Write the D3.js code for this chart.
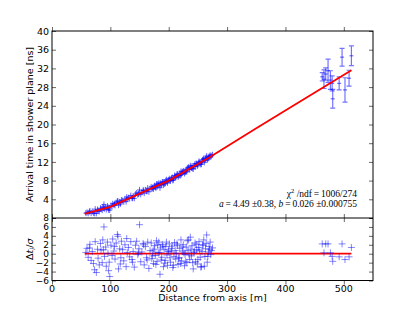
<!DOCTYPE html>
<html lang="en">
<head>
<meta charset="UTF-8">
<title>Arrival time fit</title>
<script src="https://d3js.org/d3.v7.min.js"></script>
<style>
    html, body { margin: 0; padding: 0; background: #fff; }
    svg { display: block; }
    .tick text { font-family: "DejaVu Sans", sans-serif; font-size: 9.5px; fill: #000; }
    .lab { font-family: "DejaVu Sans", sans-serif; font-size: 9.5px; fill: #000; }
    .ann { font-family: "Liberation Serif", "DejaVu Serif", serif; font-size: 9.5px; fill: #000; }
</style>
</head>
<body>
<svg width="415" height="312"></svg>
<script>
// near-core stations: distance [m], arrival time [ns], residual dt/sigma
const nearR = [58, 60, 62, 64, 65, 67, 69, 71, 73, 74, 76, 78, 79,
    81, 83, 84, 86, 87, 89, 90, 92, 93, 95, 96, 98, 99, 101, 103, 104, 106, 108, 110, 112, 113, 114, 116, 118, 119,
    121, 123, 125, 127, 129, 131, 133, 135, 137, 139, 141, 143, 145, 147, 149, 150, 152, 154, 156, 158, 160, 162, 164, 166, 168,
    170, 171, 173, 174, 176, 177, 179, 180, 182, 183, 185, 186, 188, 189, 191, 192, 194, 195, 197, 198,
    200, 201, 203, 204, 206, 207, 209, 210, 212, 213, 215, 216, 218, 219, 221, 222, 224, 225, 227, 228,
    230, 231, 233, 234, 236, 237, 239, 240, 242, 243, 245, 246, 248, 249, 251, 252, 254, 255, 257, 258,
    260, 261, 263, 265, 267, 269, 271, 273, 275,
    172, 175, 178, 181, 184, 187, 190, 193, 196, 199, 202, 205, 208, 211, 214, 217, 220, 223, 226, 229,
    232, 235, 238, 241, 244, 247, 250, 253, 256, 259, 262, 264, 266, 268, 270, 272,
    88, 97, 107, 117, 128, 138, 148, 157, 163];
const nearT = [1.05, 1.2, 1.0, 1.35, 1.5, 1.05, 1.4, 1.1, 1.0, 1.9, 1.0, 1.8, 1.5,
    1.4, 2.1, 1.95, 1.65, 2.35, 2.9, 2.0, 2.3, 1.8, 2.55, 2.27, 2.1, 1.7, 2.7, 2.5, 3.05, 2.8, 2.7, 3.3, 3.6, 3.6, 2.75, 3.45, 3.3, 3.85,
    3.75, 3.45, 4.1, 3.5, 4.07, 4.35, 4.15, 4.8, 4.25, 4.65, 4.2, 5.1, 5.35, 5.0, 5.3, 6.0, 5.05, 5.5, 5.9, 5.3, 6.0, 5.75, 6.4, 5.6, 6.3,
    6.66, 6.22, 6.58, 6.21, 6.93, 6.64, 7.26, 6.63, 7.02, 7.44, 6.47, 7.4, 7.21, 7.7, 7.07, 7.69, 7.44, 7.96, 7.79, 7.51,
    8.12, 8.4, 7.93, 8.34, 8.69, 8.04, 8.55, 9.09, 8.67, 8.94, 9.36, 8.78, 9.15, 9.53, 9.97, 9.32, 9.79, 10.08, 9.52, 9.96,
    10.35, 9.9, 10.45, 10.88, 10.36, 11.18, 10.7, 11.11, 10.47, 11.1, 11.56, 11.0, 11.55, 11.13, 11.83, 12.1, 11.71, 11.45, 12.13, 12.42,
    12.73, 11.91, 12.64, 13.25, 12.67, 13.14, 13.43, 13.29, 13.53,
    6.36, 6.75, 6.4, 7.24, 7.15, 7.06, 7.7, 7.29, 8.17, 8.03, 8.0, 8.54, 8.18, 8.89, 9.32, 9.06, 9.09, 9.86, 9.88, 9.79,
    10.71, 10.44, 10.85, 10.61, 11.21, 11.66, 11.36, 11.88, 11.54, 12.48, 12.31, 12.89, 12.4, 12.89, 13.12, 13.08,
    2.1, 1.73, 3.04, 3.0, 4.48, 4.25, 5.12, 5.89, 5.72];
const nearRes = [0.3, 1.2, -0.8, 1.3, 2.1, -1.5, 0.5, -2.2, -3.6, 2.7, -4.2, 1.0, -1.0,
    -2.5, 2.3, 0.8, -2.0, 3.1, 6.0, -0.6, 1.5, -2.8, 2.6, 0.1, -1.9, -5.1, 1.9, -0.4, 3.3, 0.6, -1.2, 2.4, 4.3, 3.9, -3.4, 1.1, -0.9, 2.8,
    0.9, -1.6, 2.0, -2.9, 0.3, 1.4, -0.7, 2.7, -1.3, 0.5, -3.0, 1.9, 2.8, -0.2, 1.1, 6.5, -1.8, 0.4, 2.3, -2.5, 1.6, -0.9, 2.6, -3.3, 0.7,
    2.4, -1.1, 0.6, -2.2, 1.8, -0.4, 2.9, -1.7, 0.2, 2.6, -4.6, 1.3, -0.8, 2.1, -2.9, 0.9, -1.5, 1.6, -0.3, -2.6,
    0.8, 2.2, -1.9, 0.4, 1.7, -3.1, -0.6, 2.5, -1.2, 0.1, 1.9, -2.4, -0.9, 1.2, 3.1, -1.6, 0.6, 2.0, -2.7, -0.2,
    1.5, -2.0, 0.7, 3.1, -1.3, 3.7, -0.5, 1.8, -3.4, 0.3, 2.4, -1.8, 0.9, -2.3, 1.4, 2.7, -0.8, -3.0, 0.5, 2.0,
    3.1, -2.8, 1.1, 4.2, -0.6, 1.6, 2.6, 0.7, 1.3,
    -0.5, 1.0, -2.4, 2.0, 0.3, -1.4, 1.7, -2.1, 2.6, 0.5, -0.9, 1.2, -2.6, 0.7, 2.2, -1.0, -2.2, 1.5, 0.2, -1.8,
    2.9, -0.3, 1.0, -2.0, 0.6, 2.1, -1.3, 0.8, -2.9, 1.9, -0.6, 2.3, -1.9, 0.4, 1.0, -0.2,
    0.9, -3.8, 1.6, -2.3, 3.4, -1.9, 0.2, 2.0, -1.4];

// far stations with their uncertainties
const farR = [463, 466, 469, 473, 477, 480, 481, 492, 497, 502, 509, 513];
const farT = [30.2, 29.7, 30.8, 31.5, 29.5, 28.8, 25.5, 28.8, 34.4, 27.4, 29.9, 34.7];
const farErr = [0.9, 2.0, 1.3, 2.5, 2.0, 1.6, 2.0, 1.4, 1.9, 2.6, 1.7, 2.1];
const farRes = [2.2, 0.2, 2.2, 2.2, 0.2, -0.6, -1.7, -0.7, 2.2, -1.3, -0.7, 1.4];

// fitted curve
const fitR = [56, 100, 150, 200, 270, 350, 430, 513];
const fitT = [0.9, 2.4, 5.2, 8.0, 13.0, 19.2, 25.3, 31.6];

const xTicks = [0, 100, 200, 300, 400, 500];
const topTicks = [4, 8, 12, 16, 20, 24, 28, 32, 36, 40];
const botTicks = [-6, -4, -2, 0, 2, 4, 6, 8];

const svg = d3.select("svg");
const mLeft = 52, mRight = 373, mTop = 31, mMid = 218, mBottom = 280.5;
const blue = "#0000ff", red = "#ff0000";

const x = d3.scaleLinear().domain([0, 550]).range([mLeft, mRight]);
const yTop = d3.scaleLinear().domain([0, 40]).range([mMid, mTop]);
const yBot = d3.scaleLinear().domain([-6, 8]).range([mBottom, mMid]);

const minus = d => d3.format("d")(d).replace("-", "\u2212");

function frame(yScale, y0, y1, ticks, labelTicks, fontSize) {
    const g = svg.append("g");
    // inward ticks on all four sides
    const ax = (axis, tr) => {
        const a = g.append("g").attr("transform", tr).call(axis);
        a.select(".domain").remove();
        a.selectAll(".tick line").attr("stroke", "#000").attr("stroke-width", 0.6);
        return a;
    };
    const l = ax(d3.axisRight(yScale).tickValues(ticks).tickSize(4).tickFormat(minus), `translate(${mLeft},0)`);
    l.selectAll(".tick text").attr("x", -3).attr("text-anchor", "end").attr("dy", "0.33em")
        .style("font-size", fontSize + "px");
    l.selectAll(".tick text").filter(d => !labelTicks.includes(d)).remove();
    ax(d3.axisLeft(yScale).tickValues(ticks).tickSize(4).tickFormat(""), `translate(${mRight},0)`);
    ax(d3.axisBottom(x).tickValues(xTicks).tickSize(4).tickFormat(""), `translate(0,${y0})`);
    ax(d3.axisTop(x).tickValues(xTicks).tickSize(4).tickFormat(""), `translate(0,${y1})`);
    return g;
}

// top panel
svg.append("clipPath").attr("id", "clipTop").append("rect")
    .attr("x", mLeft).attr("y", mTop).attr("width", mRight - mLeft).attr("height", mMid - mTop);
const pTop = svg.append("g").attr("clip-path", "url(#clipTop)");

const plus = (g, px, py, sx, sy) => g.append("path")
    .attr("d", `M${px - sx},${py}H${px + sx}M${px},${py - sy}V${py + sy}`);

const nearG = pTop.append("g").attr("stroke", blue).attr("stroke-opacity", 0.6).attr("stroke-width", 1).attr("fill", "none");
nearR.forEach((r, i) => plus(nearG, x(r), yTop(nearT[i]), 2.5, 3));

const farG = pTop.append("g").attr("stroke", blue).attr("stroke-opacity", 0.55).attr("stroke-width", 1.2).attr("fill", "none");
farR.forEach((r, i) => {
    const cx = x(r), y1 = yTop(farT[i] + farErr[i]), y2 = yTop(farT[i] - farErr[i]);
    farG.append("path").attr("d", `M${cx},${y1}V${y2}M${cx - 2.5},${y1}H${cx + 2.5}M${cx - 2.5},${y2}H${cx + 2.5}`);
    plus(farG, cx, yTop(farT[i]), 2, 0);
});

const fitLine = d3.line().x((d, i) => x(fitR[i])).y(d => yTop(d));
pTop.append("path").datum(fitT).attr("d", fitLine)
    .attr("fill", "none").attr("stroke", red).attr("stroke-width", 1.8);

frame(yTop, mMid, mTop, [0].concat(topTicks), topTicks, 9.5);

// bottom panel
const pBot = svg.append("g");
pBot.append("line").attr("x1", x(fitR[0])).attr("x2", x(fitR[fitR.length - 1]))
    .attr("y1", yBot(0)).attr("y2", yBot(0)).attr("stroke", red).attr("stroke-width", 1.8);
const resG = pBot.append("g").attr("stroke", blue).attr("stroke-opacity", 0.6).attr("stroke-width", 0.8).attr("fill", "none");
nearR.forEach((r, i) => plus(resG, x(r), yBot(nearRes[i]), 3.5, 3.5));
farR.forEach((r, i) => plus(resG, x(r), yBot(farRes[i]), 3.5, 3.5));

frame(yBot, mBottom, mMid, botTicks, botTicks, 9);

// x tick labels
svg.append("g").selectAll("text").data(xTicks).join("text")
    .attr("class", "lab").attr("x", d => x(d)).attr("y", mBottom + 11)
    .attr("text-anchor", "middle").text(d => d);

// panel frames
svg.append("rect").attr("x", mLeft).attr("y", mTop).attr("width", mRight - mLeft).attr("height", mBottom - mTop)
    .attr("fill", "none").attr("stroke", "#000").attr("stroke-width", 1);
svg.append("line").attr("x1", mLeft).attr("x2", mRight).attr("y1", mMid).attr("y2", mMid)
    .attr("stroke", "#000").attr("stroke-width", 1);

// axis labels
svg.append("text").attr("class", "lab").attr("x", (mLeft + mRight) / 2).attr("y", 301)
    .attr("text-anchor", "middle").text("Distance from axis [m]");
svg.append("text").attr("class", "lab")
    .attr("transform", `translate(33,${(mTop + mMid) / 2}) rotate(-90)`)
    .attr("text-anchor", "middle").text("Arrival time in shower plane [ns]");
const dl = svg.append("text").attr("class", "lab")
    .attr("transform", `translate(33,${(mMid + mBottom) / 2}) rotate(-90)`)
    .attr("text-anchor", "middle");
dl.append("tspan").text("\u0394");
dl.append("tspan").attr("font-style", "italic").text("t");
dl.append("tspan").attr("font-style", "italic").attr("font-size", "7px").attr("dy", 2).text("i");
dl.append("tspan").attr("dy", -2).text("/");
dl.append("tspan").attr("font-style", "italic").text("\u03c3");

// fit annotation
const a1 = svg.append("text").attr("class", "ann").attr("x", 357).attr("y", 197).attr("text-anchor", "end");
a1.append("tspan").text("\u03c7");
a1.append("tspan").attr("font-size", "6.5px").attr("dy", -4).text("2");
a1.append("tspan").attr("dy", 4).text(" /ndf\u2009=\u20091006/274");
const a2 = svg.append("text").attr("class", "ann").attr("x", 357).attr("y", 206.5).attr("text-anchor", "end");
a2.append("tspan").attr("font-style", "italic").text("a");
a2.append("tspan").text("\u2009=\u20094.49 \u00b10.38, ");
a2.append("tspan").attr("font-style", "italic").text("b");
a2.append("tspan").text("\u2009=\u20090.026 \u00b10.000755");
</script>
</body>
</html>
